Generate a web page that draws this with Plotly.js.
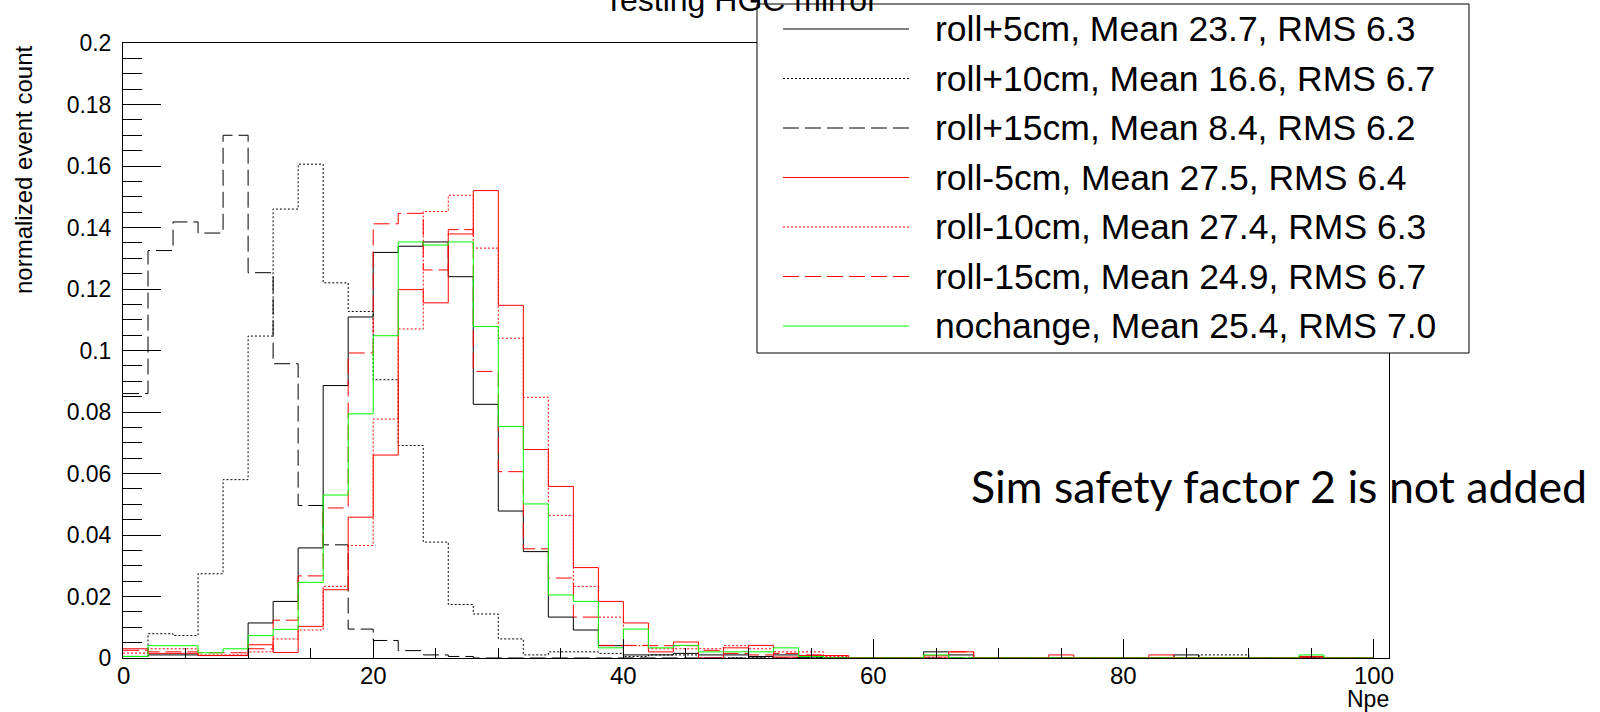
<!DOCTYPE html>
<html><head><meta charset="utf-8">
<script src="https://cdn.plot.ly/plotly-3.0.1.min.js"></script>
<style>html,body{margin:0;padding:0;background:#fff;}#chart{width:1600px;height:712px;}</style>
</head><body><div id="chart"></div>
<script>
// ---- data ----
const binWidth = 2;          // Npe bins: 0-2, 2-4, ..., 98-100
const nBins = 50;
const chartTitle = "Testing HGC mirror";
const seriesNames = ["roll+5cm", "roll+10cm", "roll+15cm", "roll-5cm", "roll-10cm", "roll-15cm", "nochange"];
const seriesMeans = ["23.7", "16.6", "8.4", "27.5", "27.4", "24.9", "25.4"];
const seriesRMS = ["6.3", "6.7", "6.2", "6.4", "6.3", "6.7", "7.0"];

const rollP5 = [0.0005,0.001,0.001,0.0008,0.0008,0.0114,0.0184,0.0358,0.0886,0.1109,
  0.1319,0.1339,0.1353,0.124,0.0825,0.0478,0.0346,0.0133,0.0091,0.004,
  0.001,0.001,0.0015,0.001,0.001,0.0005,0.001,0,0,0,
  0,0,0.002,0.001,0,0,0,0,0,0,
  0,0,0.001,0,0,0,0,0,0,0];
const rollP10 = [0.0005,0.0079,0.0073,0.0274,0.058,0.1047,0.146,0.1606,0.122,0.1127,
  0.0905,0.0691,0.0377,0.0174,0.0143,0.0062,0.001,0.002,0.002,0.0015,
  0.0005,0.001,0.001,0,0,0,0,0,0,0,
  0,0,0,0,0,0,0,0,0,0,
  0,0,0,0.001,0.001,0,0,0,0,0];
const rollP15 = [0.086,0.1325,0.1418,0.1382,0.170,0.1253,0.0957,0.0496,0.0368,0.0094,
  0.0057,0.0024,0.001,0.0005,0,0,0,0,0,0,
  0,0,0,0,0,0,0,0,0,0,
  0,0,0,0,0,0,0,0,0,0,
  0,0,0,0,0,0,0,0,0,0];
const rollM5 = [0.003,0.0015,0.0015,0.0008,0.0008,0.0043,0.0018,0.0103,0.0222,0.0458,
  0.066,0.1198,0.1155,0.1379,0.152,0.1147,0.0678,0.0558,0.0294,0.0184,
  0.0114,0.002,0.0052,0,0.0033,0.0041,0.0003,0.0008,0.0008,0,
  0,0,0.0007,0.002,0,0,0,0.001,0,0,
  0,0.001,0,0,0,0,0,0.0005,0,0];
const rollM10 = [0.0016,0.003,0.003,0.001,0.001,0.002,0.0062,0.0091,0.0233,0.0366,
  0.0777,0.107,0.1452,0.1505,0.1333,0.104,0.0848,0.0464,0.0233,0.0133,
  0.004,0.003,0.003,0.003,0.004,0.003,0.002,0.002,0.0005,0,
  0,0,0,0,0,0,0,0,0,0,
  0,0,0,0,0,0,0,0,0,0];
const rollM15 = [0.0025,0.002,0.002,0.0017,0.0017,0.003,0.0123,0.0267,0.0488,0.0992,
  0.1412,0.1446,0.1262,0.1393,0.0932,0.0606,0.0355,0.026,0.0133,0.0041,
  0.0041,0.004,0.004,0.0025,0.0015,0.001,0.0015,0.001,0,0,
  0,0,0,0.002,0,0,0,0,0,0,
  0,0,0,0,0,0,0,0,0,0];
const noChange = [0.0005,0.004,0.004,0.0017,0.003,0.0073,0.0093,0.0246,0.053,0.0794,
  0.1048,0.1353,0.1343,0.1353,0.1078,0.0753,0.0501,0.0205,0.0184,0.0033,
  0.0094,0.0033,0.0041,0.002,0.002,0.002,0.0033,0.0005,0,0,
  0,0,0.001,0,0,0,0,0,0,0,
  0,0,0,0,0,0,0,0.001,0,0];

const seriesData = [rollP5, rollP10, rollP15, rollM5, rollM10, rollM15, noChange];
const xTickVals = [0, 20, 40, 60, 80, 100];
const yTickVals = [0, 0.02, 0.04, 0.06, 0.08, 0.1, 0.12, 0.14, 0.16, 0.18, 0.2];

// ---- style ----
const seriesColors = ["#000000","#000000","#000000","#ff0000","#ff0000","#ff0000","#00ff00"];
const seriesDash = ["solid","2px,2px","16px,6px","solid","2px,2px","16px,6px","solid"];
const FONT = "Liberation Sans, Arial, Helvetica, sans-serif";

// page geometry (pixels)
const PW = 1600, PH = 712, ML = 123, MR = 211, MT = 43, MB = 54;
const W = PW - ML - MR, H = PH - MT - MB;
const pxX = v => (v - ML) / W;
const pxY = v => (PH - MB - v) / H;

// bin edges from bin width
const edges = [];
for (let i = 0; i <= nBins; i++) edges.push(i * binWidth);

const traces = seriesData.map((vals, i) => ({
  type: "scatter", mode: "lines",
  x: edges, y: vals.concat([vals[vals.length - 1]]),
  line: {shape: "hv", color: seriesColors[i], width: 1, dash: seriesDash[i]},
  name: seriesNames[i], showlegend: false, hoverinfo: "skip"
}));

// legend (drawn as box + sample lines + text)
const legBox = {x0: 757, x1: 1469, y0: 4, y1: 353};
const legRow0 = 29, legRowStep = 49.5;
const shapes = [{
  type: "rect", xref: "paper", yref: "paper", layer: "above",
  x0: pxX(legBox.x0), x1: pxX(legBox.x1), y0: pxY(legBox.y1), y1: pxY(legBox.y0),
  fillcolor: "#ffffff", line: {color: "#000000", width: 1}
}];
const annotations = [];
annotations.push({xref: "paper", yref: "paper", x: pxX(741), y: pxY(0),
  xanchor: "center", yanchor: "middle", showarrow: false,
  text: chartTitle, font: {family: FONT, size: 32, color: "#000"}});
seriesNames.forEach((n, i) => {
  const yc = legRow0 + legRowStep * i;
  shapes.push({type: "line", xref: "paper", yref: "paper", layer: "above",
    x0: pxX(783), x1: pxX(909), y0: pxY(yc), y1: pxY(yc),
    line: {color: seriesColors[i], width: 1, dash: seriesDash[i]}});
  annotations.push({xref: "paper", yref: "paper", x: pxX(933), y: pxY(yc),
    xanchor: "left", yanchor: "middle", showarrow: false,
    text: n + ", Mean " + seriesMeans[i] + ", RMS " + seriesRMS[i],
    font: {family: FONT, size: 35.5, color: "#000"}});
});
// x tick labels (placed from the tick values)
xTickVals.forEach(v => {
  annotations.push({xref: "x", yref: "paper", x: v, y: pxY(675),
    xanchor: "center", yanchor: "middle", showarrow: false, borderpad: 0,
    text: String(v), font: {family: FONT, size: 24, color: "#000"}});
});
annotations.push({xref: "paper", yref: "paper", x: pxX(24), y: pxY(44),
  xanchor: "center", yanchor: "top", textangle: -90, showarrow: false,
  text: "normalized event count", font: {family: FONT, size: 24, color: "#000"}});
annotations.push({xref: "paper", yref: "paper", x: pxX(1390), y: pxY(685),
  xanchor: "right", yanchor: "top", showarrow: false, borderpad: 0,
  text: "Npe", font: {family: FONT, size: 23, color: "#000"}});
annotations.push({xref: "paper", yref: "paper", x: pxX(969), y: pxY(486),
  xanchor: "left", yanchor: "middle", showarrow: false,
  text: "Sim safety factor 2 is not added", font: {family: "Lato, 'Open Sans', sans-serif", size: 44.7, color: "#000"}});

const layout = {
  width: PW, height: PH,
  margin: {l: ML, r: MR, t: MT, b: MB, pad: 0},
  paper_bgcolor: "#ffffff", plot_bgcolor: "#ffffff",
  showlegend: false,
  xaxis: {
    range: [0, 101.2], showgrid: false, zeroline: false,
    showline: true, mirror: true, linecolor: "#000", linewidth: 1,
    ticks: "inside", ticklen: 19, tickwidth: 1, tickcolor: "#000",
    tickmode: "array", tickvals: xTickVals, showticklabels: false,
    minor: {dtick: 5, tick0: 0, ticks: "inside", ticklen: 10, tickcolor: "#000", tickwidth: 1, showgrid: false}
  },
  yaxis: {
    range: [0, 0.2], showgrid: false, zeroline: false,
    showline: true, mirror: true, linecolor: "#000", linewidth: 1,
    ticks: "inside", ticklen: 38, tickwidth: 1, tickcolor: "#000",
    tickmode: "array", tickvals: yTickVals, ticktext: yTickVals.map(String),
    ticklabelstandoff: 6,
    tickfont: {family: FONT, size: 23, color: "#000"},
    minor: {dtick: 0.005, tick0: 0, ticks: "inside", ticklen: 19, tickcolor: "#000", tickwidth: 1, showgrid: false}
  },
  shapes: shapes,
  annotations: annotations
};

Plotly.newPlot("chart", traces, layout, {displayModeBar: false, staticPlot: true});
</script>
</body></html>
